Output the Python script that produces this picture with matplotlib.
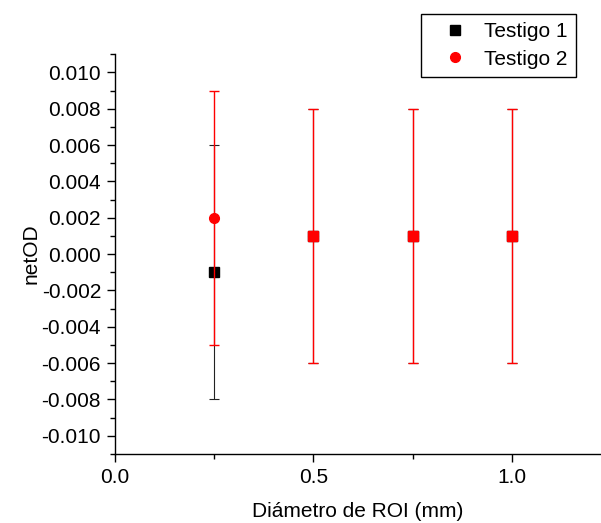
import matplotlib
matplotlib.use("Agg")
import matplotlib.pyplot as plt
from matplotlib.ticker import MultipleLocator, FormatStrFormatter
from matplotlib.lines import Line2D

plt.rcParams['font.family'] = ['Liberation Sans', 'DejaVu Sans']

diam = [0.25, 0.5, 0.75, 1.0]
t1_vals = [-0.001, 0.001, 0.001, 0.001]
t1_err = [0.007, 0.007, 0.007, 0.007]
t2_vals = [0.002, 0.001, 0.001, 0.001]
t2_err = [0.007, 0.007, 0.007, 0.007]
labels = ["Testigo 1", "Testigo 2"]

fig = plt.figure(figsize=(6.01, 5.23), dpi=100)
ax = fig.add_axes([115/601, 1-454/523, 1-115/601, (454-54.3)/523])

ax.errorbar(diam, t1_vals, yerr=t1_err, fmt='s', color='black', ecolor='#222222',
            markersize=6.5, capsize=3.5, elinewidth=0.8, capthick=0.8, label=labels[0], zorder=3)
ax.errorbar(diam, t2_vals, yerr=t2_err, fmt='o', color='red', ecolor='red',
            markersize=7, capsize=3.5, elinewidth=1.0, capthick=1.0, label=labels[1], zorder=4)
# at the shared points the reference shows red squares
ax.plot(diam[1:], t1_vals[1:], 's', color='red', markersize=6.5, zorder=5)

ax.set_xlim(0, 1.225)
ax.set_ylim(-0.011, 0.011)
ax.xaxis.set_major_locator(MultipleLocator(0.5))
ax.xaxis.set_minor_locator(MultipleLocator(0.25))
ax.yaxis.set_major_locator(MultipleLocator(0.002))
ax.yaxis.set_minor_locator(MultipleLocator(0.001))
ax.xaxis.set_major_formatter(FormatStrFormatter('%.1f'))
ax.yaxis.set_major_formatter(FormatStrFormatter('%.3f'))
ax.spines['top'].set_visible(False)
ax.spines['right'].set_visible(False)
for s in ['left', 'bottom']:
    ax.spines[s].set_linewidth(1.0)
ax.tick_params(which='major', direction='out', length=6, width=1.0, labelsize=15, pad=4)
ax.tick_params(which='minor', direction='out', length=3.5, width=1.0)
ax.set_xlabel("Diámetro de ROI (mm)", fontsize=15, labelpad=11)
ax.set_ylabel("netOD", fontsize=15, labelpad=1)

h1 = Line2D([], [], marker='s', color='black', linestyle='none', markersize=6.5)
h2 = Line2D([], [], marker='o', color='red', linestyle='none', markersize=7)
leg = ax.legend([h1, h2], labels, loc='upper right',
                bbox_to_anchor=(576/601, 1-14/523), bbox_transform=fig.transFigure,
                borderaxespad=0, fontsize=15, frameon=True, fancybox=False,
                edgecolor='black', framealpha=1, handletextpad=0.16, handlelength=2.47,
                labelspacing=0.4, borderpad=0.4)
leg.get_frame().set_linewidth(1.0)

fig.savefig("out.png", dpi=100)
